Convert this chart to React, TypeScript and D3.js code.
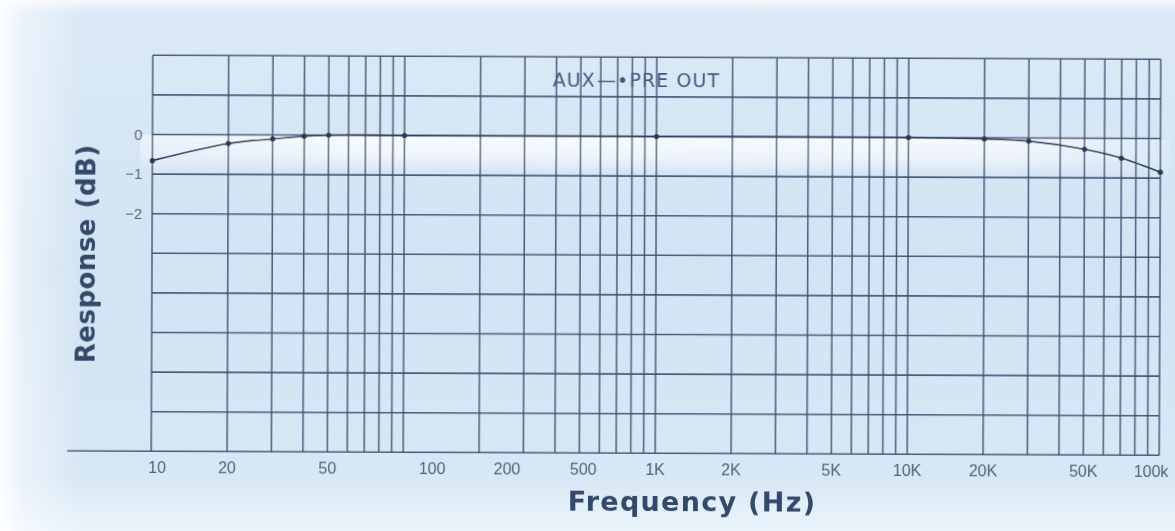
import React from "react";
import * as d3 from "d3";

// Measured frequency response, AUX input to PRE OUT
const FREQ_HZ = [10, 20, 30, 40, 50, 100, 1000, 10000, 20000, 30000, 50000, 70000, 100000];
const RESPONSE_DB = [-0.66, -0.22, -0.1, -0.03, 0, 0, 0, 0, -0.03, -0.08, -0.28, -0.5, -0.85];

const X_TICK_VALUES = [10, 20, 50, 100, 200, 500, 1000, 2000, 5000, 10000, 20000, 50000, 100000];
const X_TICK_LABELS = ["10", "20", "50", "100", "200", "500", "1K", "2K", "5K", "10K", "20K", "50K", "100k"];
const Y_TICK_VALUES = [0, -1, -2];
const Y_TICK_LABELS = ["0", "\u22121", "\u22122"];

const TITLE_FROM = "AUX";
const TITLE_TO = "PRE OUT";
const X_TITLE = "Frequency (Hz)";
const Y_TITLE = "Response (dB)";

const W = 1175;
const H = 531;
const GRID = "#3a4f71";
const INK = "#33486a";

export default function App() {
  const x = d3.scaleLog().domain([10, 100000]).range([152, 1160]);
  const y = d3.scaleLinear().domain([-8, 2]).range([453.3, 57.3]);

  // log paper: 1..9 per decade
  const vLines: number[] = [];
  [10, 100, 1000, 10000].forEach((dec) => {
    for (let m = 1; m <= 9; m++) vLines.push(dec * m);
  });
  vLines.push(100000);
  const hLines = d3.range(-8, 2.001, 1);

  const pts: [number, number][] = FREQ_HZ.map((f, i) => [x(f), y(RESPONSE_DB[i])]);
  const line = d3.line().curve(d3.curveCatmullRom.alpha(0.5))(pts) || "";

  // printed labels for 100 and 200 sit right of their lines
  const labelNudge: Record<number, number> = { 100: 29, 200: 28, 500: 4, 10: 6, 100000: -8 };

  const [y0, y1] = [y(2), y(-8)];

  return (
    <svg
      width={W}
      height={H}
      style={{ position: "absolute", left: 0, top: 0, display: "block" }}
      xmlns="http://www.w3.org/2000/svg"
    >
      <defs>
        <linearGradient id="bgV" x1="0" y1="0" x2="0" y2="1">
          <stop offset="0" stopColor="#f6f9fc" />
          <stop offset="0.025" stopColor="#dbe9f6" />
          <stop offset="0.5" stopColor="#d2e3f3" />
          <stop offset="0.9" stopColor="#d8e7f5" />
          <stop offset="1" stopColor="#ebf4fb" />
        </linearGradient>
        <linearGradient id="bgH" x1="0" y1="0" x2="1" y2="0">
          <stop offset="0" stopColor="#ffffff" stopOpacity="0.95" />
          <stop offset="0.02" stopColor="#ffffff" stopOpacity="0.45" />
          <stop offset="0.07" stopColor="#ffffff" stopOpacity="0" />
          <stop offset="1" stopColor="#ffffff" stopOpacity="0" />
        </linearGradient>
        <linearGradient id="glare" x1="0" y1="0" x2="0" y2="1">
          <stop offset="0" stopColor="#ffffff" stopOpacity="0.85" />
          <stop offset="0.6" stopColor="#ffffff" stopOpacity="0.55" />
          <stop offset="1" stopColor="#ffffff" stopOpacity="0" />
        </linearGradient>
        <linearGradient id="glareH" x1="0" y1="0" x2="1" y2="0">
          <stop offset="0" stopColor="#fff" stopOpacity="0.6" />
          <stop offset="0.2" stopColor="#fff" stopOpacity="1" />
          <stop offset="0.85" stopColor="#fff" stopOpacity="0.9" />
          <stop offset="1" stopColor="#fff" stopOpacity="0.2" />
        </linearGradient>
        <mask id="glareMask">
          <rect x={140} y={y(0)} width={1030} height={y(-0.9) - y(0)} fill="url(#glareH)" />
        </mask>
        <filter id="soft" x="-5%" y="-5%" width="110%" height="110%">
          <feGaussianBlur stdDeviation="0.6" />
        </filter>
      </defs>

      <rect x={0} y={0} width={W} height={H} fill="url(#bgV)" />
      <rect x={0} y={0} width={W} height={H} fill="url(#bgH)" />

      <g transform={`rotate(0.23 656 255)`} filter="url(#soft)">
        <rect
          x={140}
          y={y(0) + 1}
          width={1030}
          height={y(-0.9) - y(0)}
          fill="url(#glare)"
          mask="url(#glareMask)"
        />

        {/* vertical grid */}
        {vLines.map((f) => (
          <line
            key={`v${f}`}
            x1={x(f)}
            x2={x(f)}
            y1={y0}
            y2={y1}
            stroke={GRID}
            strokeWidth={1.5}
            strokeOpacity={0.9}
          />
        ))}

        {/* horizontal grid */}
        {hLines.map((v) => (
          <line
            key={`h${v}`}
            x1={v === -8 ? 68 : x(10)}
            x2={x(100000)}
            y1={y(v)}
            y2={y(v)}
            stroke={GRID}
            strokeWidth={1.6}
            strokeOpacity={0.9}
          />
        ))}

        {/* response curve */}
        <path d={line} fill="none" stroke="#2e3f5c" strokeWidth={1.6} />
        {pts.map(([px, py], i) => (
          <circle key={`p${i}`} cx={px} cy={py} r={2.6} fill="#2a3956" />
        ))}

        {/* y tick labels */}
        {Y_TICK_VALUES.map((v, i) => (
          <text
            key={`yt${v}`}
            x={142}
            y={y(v)}
            dy="0.35em"
            textAnchor="end"
            fontFamily="Liberation Sans, Arial, sans-serif"
            fontSize={15}
            fill="#56667e"
          >
            {Y_TICK_LABELS[i]}
          </text>
        ))}

        {/* x tick labels */}
        {X_TICK_VALUES.map((v, i) => (
          <text
            key={`xt${v}`}
            x={x(v) + (labelNudge[v] || 0)}
            y={469}
            dy="0.35em"
            textAnchor="middle"
            fontFamily="Liberation Sans, Arial, sans-serif"
            fontSize={16}
            fill="#526179"
          >
            {X_TICK_LABELS[i]}
          </text>
        ))}

        {/* signal path label */}
        <text
          x={552}
          y={80}
          dy="0.35em"
          fontFamily="DejaVu Sans, Verdana, sans-serif"
          fontSize={19}
          letterSpacing={1.1}
          fill="#46577a"
        >
          <tspan>{TITLE_FROM}</tspan>
          <tspan dx={1}>{"\u2014\u2022"}</tspan>
          <tspan>{TITLE_TO}</tspan>
        </text>

        <text
          x={693}
          y={502}
          dy="0.35em"
          textAnchor="middle"
          fontFamily="DejaVu Sans, Verdana, sans-serif"
          fontWeight="bold"
          fontSize={27}
          letterSpacing={1.3}
          fill={INK}
        >
          {X_TITLE}
        </text>

        <text
          transform={`translate(86 256) rotate(-90)`}
          dy="0.35em"
          textAnchor="middle"
          fontFamily="DejaVu Sans, Verdana, sans-serif"
          fontWeight="bold"
          fontSize={26}
          letterSpacing={0.5}
          fill={INK}
        >
          {Y_TITLE}
        </text>
      </g>
    </svg>
  );
}
